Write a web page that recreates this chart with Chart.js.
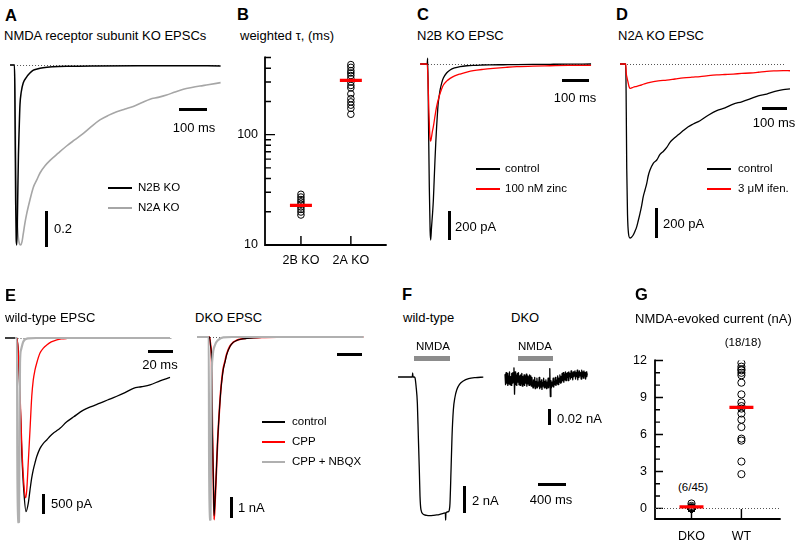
<!DOCTYPE html>
<html><head><meta charset="utf-8">
<script src="https://cdn.jsdelivr.net/npm/chart.js@4.4.1/dist/chart.umd.min.js"></script>
<style>
html,body{margin:0;padding:0;background:#fff;}
#fig{position:relative;width:800px;height:546px;overflow:hidden;font-family:"Liberation Sans",Arial,Helvetica,sans-serif;color:#000;}
#fig canvas{position:absolute;}
.t{position:absolute;white-space:nowrap;line-height:1;font-size:13px;}
.r{position:absolute;}
</style></head><body><div id="fig"></div>
<script>
// ---------------- DATA ----------------
// A: normalized EPSCs (time ms, normalized current)
const aN2B_t = [-7, 9, 11, 13, 15, 17, 19, 21, 23, 25.5, 28.5, 33, 40, 52, 64, 75, 90, 111, 146, 200, 300, 450, 600, 745];
const aN2B_v = [0, 0, -0.3, -0.75, -0.97, -1.0, -0.88, -0.68, -0.5, -0.36, -0.22, -0.15, -0.1, -0.067, -0.045, -0.03, -0.022, -0.015, -0.01, -0.007, -0.005, -0.004, -0.004, -0.005];
const aN2A_t = [-7, 9, 11, 14, 18, 22, 26, 31, 36, 40, 46, 52, 64, 76, 88, 100, 118, 136, 165, 195, 225, 255, 285, 314, 344, 374, 404, 433, 463, 493, 522, 552, 582, 612, 642, 671, 700, 745];
const aN2A_v = [0, 0, -0.25, -0.6, -0.85, -0.95, -0.99, -1.0, -0.98, -0.94, -0.88, -0.83, -0.75, -0.68, -0.64, -0.6, -0.56, -0.53, -0.49, -0.45, -0.415, -0.38, -0.34, -0.305, -0.28, -0.26, -0.245, -0.23, -0.21, -0.19, -0.18, -0.167, -0.15, -0.135, -0.125, -0.117, -0.11, -0.098];

// B: weighted tau (ms)
const bCats = ['2B KO', '2A KO'];
const bTau2B = [28.8, 27.2, 25.8, 24.6, 23.4, 22.1, 21.0, 19.9, 18.7];
const bTau2A = [431, 407, 380, 362, 343, 322, 299, 279, 265, 234, 212, 198, 185, 173, 153];
const bMeans = [22.9, 310];
const bTicks = [10, 20, 30, 40, 50, 60, 70, 80, 90, 100, 200, 300, 400, 500];

// C: N2B KO EPSC (ms, pA)
const cCtl_t = [-18, 8, 10, 13, 16, 19, 21, 24, 28, 31, 34, 37, 40, 43, 46, 49, 53, 56, 62, 68, 80, 93, 110, 130, 155, 178, 210, 240, 290, 340, 400, 463, 530, 615];
const cCtl_v = [0, 0, 40, -400, -850, -1150, -1214, -1130, -1030, -938, -800, -662, -540, -434, -345, -269, -215, -179, -130, -97, -62, -41, -27, -18, -12, -9, -7, -6, -5, -4, -3, -2, -1, 0];
const cZn_t = [-18, 8, 11, 14, 17, 19, 21, 24, 27, 31, 37, 43, 50, 56, 62, 68, 80, 93, 110, 130, 155, 179, 215, 253, 300, 340, 400, 463, 530, 615];
const cZn_v = [0, 0, -100, -300, -460, -520, -531, -505, -470, -432, -360, -294, -240, -202, -170, -145, -118, -99, -82, -69, -56, -46, -37, -30, -23, -18, -14, -12, -10, -9];

// D: N2A KO EPSC (ms, pA)
const dCtl_t = [-20, 3, 5, 7, 10, 14, 20, 26, 33, 40, 47, 53, 60, 67, 73, 80, 87, 93, 100, 113, 127, 140, 153, 167, 180, 193, 213, 233, 253, 273, 300, 333, 367, 400, 433, 467, 500, 533, 567, 600, 633, 660];
const dCtl_v = [0, 0, -300, -700, -1000, -1130, -1160, -1155, -1140, -1115, -1084, -1045, -996, -940, -884, -840, -796, -745, -707, -662, -640, -603, -583, -556, -522, -500, -472, -444, -418, -400, -378, -342, -311, -292, -267, -252, -233, -212, -200, -183, -171, -166];
const dIfen_t = [-20, 3, 5, 8, 12, 16, 20, 25, 33, 47, 60, 73, 87, 100, 133, 167, 200, 233, 267, 300, 333, 367, 400, 433, 467, 500, 533, 567, 600, 633, 660];
const dIfen_v = [0, 0, -60, -90, -120, -150, -162, -160, -155, -149, -143, -135, -128, -122, -113, -107, -100, -93, -88, -84, -78, -73, -70, -67, -63, -60, -55, -49, -46, -44, -45];

// E: wild-type EPSC (ms, pA)
const eWtCtl_t = [0, 9.5, 10.5, 12, 13.5, 15, 16.8, 18.6, 20, 21.3, 22.6, 24, 25.4, 28, 30.7, 33.4, 36, 38.6, 41.3, 44, 49.4, 55, 62.7, 69, 76, 82, 89, 96, 102.7, 109, 116, 124, 132];
const eWtCtl_v = [0, 0, -300, -1500, -3000, -3900, -4450, -4240, -3900, -3600, -3380, -3200, -3040, -2830, -2700, -2615, -2520, -2440, -2380, -2315, -2150, -2020, -1850, -1760, -1670, -1590, -1500, -1400, -1290, -1250, -1200, -1100, -1010];
const eWtCpp_t = [9.5, 10.5, 12, 13.5, 15, 16.5, 17.4, 18.6, 20, 21.4, 22.6, 24, 25.4, 28, 30.7, 33.4, 37, 41.4, 45, 49.4, 55, 62, 75, 100, 132];
const eWtCpp_v = [0, -300, -1400, -2800, -3700, -4100, -3900, -3200, -2360, -1500, -1080, -820, -640, -385, -260, -180, -100, -50, -25, -12, -6, -3, 0, 0, 0];
const eWtNbqx_t = [8, 9.6, 10, 11.2, 12, 12.8, 14.6, 18.6, 25, 132];
const eWtNbqx_v = [0, 0, -4720, -4720, -640, -308, -95, -8, 0, 0];
// E: DKO EPSC (ms, pA)
const eDkoCtl_t = [0, 10, 10.8, 11.7, 12.3, 13.1, 13.6, 14.4, 15.2, 16.3, 17.6, 19, 20, 21, 22.4, 23.7, 26.4, 29, 31.7, 35, 39.7, 45, 52, 65, 80, 100, 133];
const eDkoCtl_v = [0, 0, -400, -1250, -4430, -6810, -8500, -7800, -6800, -5200, -3800, -2600, -2000, -1550, -1200, -850, -450, -260, -170, -110, -70, -40, -20, -8, -3, 0, 0];
const eDkoCpp_t = [0, 10, 10.8, 11.7, 12.3, 13.1, 13.7, 14.5, 15.3, 16.4, 17.7, 19, 20, 21, 22.4, 23.7, 26.4, 29, 31.7, 35, 39.7, 45, 52, 65, 80, 100, 133];
const eDkoCpp_v = [0, 0, -350, -1200, -4300, -6900, -8700, -7800, -6700, -5100, -3700, -2550, -1950, -1500, -1150, -820, -430, -250, -160, -100, -60, -35, -18, -6, -2, 0, 0];
const eDkoNbqx_t = [0, 9.4, 9.8, 10.8, 11.7, 12.5, 14.4, 17, 21, 28, 133];
const eDkoNbqx_v = [0, 0, -8700, -8700, -2050, -940, -380, -140, -15, 0, 0];

// F: NMDA-evoked currents (ms, pA)
const fWt_t = [-28, 176, 181, 186, 200, 214, 230, 248, 262, 276, 286, 300, 333, 380, 429, 480, 524, 570, 619, 648, 652, 656, 690, 705, 714, 729, 743, 762, 785, 810, 850, 904, 980, 1080, 1190];
const fWt_v = [0, 0, 300, 0, 0, -50, -700, -1950, -4420, -6890, -8860, -9850, -10170, -10250, -10270, -10250, -10220, -10170, -10100, -10070, -10600, -10060, -9980, -9850, -9360, -6890, -4420, -2440, -1500, -960, -550, -300, -120, -40, -10];
const fDkoDt = 8; // sampling interval, ms
const fDko_v = [6,-7,8,-5,7,-8,4,-6,9,-7,3,-8,7,-5,8,-4,14,-19,9,-7,5,-8,7,-4,8,
  -7,4,-8,5,-6,7,-9,3,-7,5,-8,4,-5,6,-9,4,-6,3,-8,5,-7,4,-9,2,-6,
  -11,-1,-9,2,-12,-3,-10,1,-11,-4,-9,2,-12,-3,-10,-1,-13,-4,-9,1,-11,-3,-10,-1,-12,
  -4,-10,1,-11,-3,13,-22,-2,-11,-4,-9,1,-10,-3,-7,2,-8,-1,-6,4,-7,1,-4,5,-5,
  3,-4,7,-2,8,-4,6,-1,9,-2,7,2,8,-2,9,3,7,0,10,2,8,-1,9,3,6,
  10,0,8,3,11,-1,9,2,10,4,8,0,11,3,9,1,10,4,8,0,9,3,7];

// G: NMDA-evoked current (nA)
const gCats = ['DKO', 'WT'];
const gDKO = [0.4, 0.2, 0.1, 0.05, 0.02, 0.01, 0,0,0,0,0,0,0,0,0,0,0,0,0,0,0,0,0,0,0,0,0,0,0,0,0,0,0,0,0,0,0,0,0,0,0,0,0,0,0];
const gWT = [11.8, 11.5, 11.3, 11.2, 11.0, 10.8, 10.2, 9.25, 8.6, 8.3, 8.1, 7.7, 7.2, 6.6, 5.66, 5.5, 3.8, 2.78];
const gMeans = [0.12, 8.2];
const gTicks = [0,1,2,3,4,5,6,7,8,9,10,11,12];
const gMajor = [0,3,6,9,12];

// ---------------- HELPERS ----------------
const FONT = '"Liberation Sans", Arial, Helvetica, sans-serif';
Chart.defaults.font.family = FONT;
Chart.defaults.color = '#000';
const fig = document.getElementById('fig');
const RED = '#ff0000', GRAY = '#a6a6a6';

function T(txt, x, cy, o = {}) {
  const d = document.createElement('div');
  d.className = 't'; d.textContent = txt;
  d.style.left = x + 'px'; d.style.top = cy + 'px';
  d.style.fontSize = (o.size || 13) + 'px';
  if (o.bold) d.style.fontWeight = 'bold';
  d.style.transform = o.center ? 'translate(-50%,-50%)' : 'translateY(-50%)';
  fig.appendChild(d);
}
function R(x, y, w, h, c) {
  const d = document.createElement('div'); d.className = 'r';
  Object.assign(d.style, {left: x + 'px', top: y + 'px', width: w + 'px', height: h + 'px', background: c || '#000'});
  fig.appendChild(d);
}
function zip(ts, vs) { return ts.map((t, i) => ({x: t, y: vs[i]})); }
function canvasAt(x, y, w, h) {
  const cv = document.createElement('canvas');
  cv.width = w; cv.height = h;
  cv.style.left = x + 'px'; cv.style.top = y + 'px';
  cv.style.width = w + 'px'; cv.style.height = h + 'px';
  fig.appendChild(cv);
  return cv;
}
function dotted(from, to) {
  return {
    id: 'dotted',
    beforeDatasetsDraw(chart) {
      const {ctx, chartArea: a} = chart, xs = chart.scales.x, ys = chart.scales.y;
      const y = Math.round(ys.getPixelForValue(0)) + 0.5;
      const x0 = from === null ? a.left : xs.getPixelForValue(from);
      const x1 = to === null ? a.right : xs.getPixelForValue(to);
      ctx.save(); ctx.strokeStyle = '#555'; ctx.lineWidth = 1; ctx.setLineDash([1, 2]);
      ctx.beginPath(); ctx.moveTo(x0, y); ctx.lineTo(x1, y); ctx.stroke(); ctx.restore();
    }
  };
}
function traceChart(box, xr, yr, sets, base) {
  const pad = 6;
  const cv = canvasAt(box[0] - pad, box[1] - pad, box[2] + 2 * pad, box[3] + 2 * pad);
  return new Chart(cv, {
    type: 'line',
    data: {datasets: sets.map(s => ({
      data: zip(s.t, s.v), borderColor: s.c, borderWidth: s.w || 1.3, pointRadius: 0, fill: false,
      tension: 0, cubicInterpolationMode: s.straight ? 'default' : 'monotone', clip: pad, borderJoinStyle: 'round'
    }))},
    options: {
      responsive: false, animation: false, devicePixelRatio: 1, events: [],
      layout: {padding: pad},
      scales: {
        x: {type: 'linear', display: false, min: xr[0], max: xr[1]},
        y: {type: 'linear', display: false, min: yr[0], max: yr[1]}
      },
      plugins: {legend: {display: false}, tooltip: {enabled: false}}
    },
    plugins: base ? [dotted(base[0], base[1])] : []
  });
}
function axesPlugin(major, majLen, minLen, xLen, lw) {
  return {
    id: 'inAxes',
    beforeDatasetsDraw(chart) {
      const {ctx, chartArea: a} = chart, xs = chart.scales.x, ys = chart.scales.y;
      ctx.save(); ctx.strokeStyle = '#000'; ctx.lineWidth = lw; ctx.lineCap = 'square';
      ctx.beginPath();
      ctx.moveTo(a.left, a.top); ctx.lineTo(a.left, a.bottom); ctx.lineTo(a.right, a.bottom);
      ctx.stroke();
      ctx.lineCap = 'butt'; ctx.lineWidth = lw * 0.8;
      ctx.beginPath();
      ys.ticks.forEach(t => {
        const y = ys.getPixelForValue(t.value);
        const L = major.includes(t.value) ? majLen : minLen;
        ctx.moveTo(a.left, y); ctx.lineTo(a.left + L, y);
      });
      xs.ticks.forEach(t => {
        const x = xs.getPixelForValue(t.value);
        ctx.moveTo(x, a.bottom); ctx.lineTo(x, a.bottom - xLen);
      });
      ctx.stroke(); ctx.restore();
    }
  };
}
function dotPlot(cvBox, pads, yW, xH, xr, yOpt, cats, groups, means, meanR, ptR, plugs, xPad) {
  const cv = canvasAt(cvBox[0], cvBox[1], cvBox[2], cvBox[3]);
  const ds = [{data: means.map((m, i) => ({x: i, y: m})), pointStyle: 'line', pointRadius: meanR, pointBorderWidth: 3.2,
               pointBorderColor: RED, borderColor: RED, borderWidth: 3.2, showLine: false}];
  groups.forEach((g, i) => ds.push({data: g.map(v => ({x: i, y: v})), pointStyle: 'circle', pointRadius: ptR,
    pointBorderColor: '#000', pointBackgroundColor: 'rgba(0,0,0,0)', pointBorderWidth: 1, showLine: false}));
  return new Chart(cv, {
    type: 'scatter',
    data: {datasets: ds},
    options: {
      responsive: false, animation: false, devicePixelRatio: 1, events: [],
      layout: {padding: pads},
      scales: {
        x: {type: 'linear', min: xr[0], max: xr[1], grid: {display: false, drawTicks: false}, border: {display: false},
            afterBuildTicks: s => { s.ticks = cats.map((c, i) => ({value: i})); },
            ticks: {padding: xPad, autoSkip: false, maxRotation: 0, font: {size: 12.5}, color: '#000', callback: v => cats[v]},
            afterFit: s => { s.height = xH; }},
        y: Object.assign({grid: {display: false, drawTicks: false}, border: {display: false},
            afterFit: s => { s.width = yW; }}, yOpt)
      },
      plugins: {legend: {display: false}, tooltip: {enabled: false}}
    },
    plugins: plugs
  });
}

// ---------------- PANEL A ----------------
T('A', 5, 15, {bold: true, size: 16.5});
T('NMDA receptor subunit KO EPSCs', 4, 35);
traceChart([10, 58, 212, 192], [-7.14, 750], [-1.0278, 0.0389], [
  {t: aN2B_t, v: aN2B_v, c: '#000', w: 1.5},
  {t: aN2A_t, v: aN2A_v, c: GRAY, w: 1.6}
], [18, 743]);
R(179, 108, 28, 3); T('100 ms', 194, 127, {center: true});
R(108, 187, 24, 1.5, '#000'); T('N2B KO', 138, 188, {size: 11.5});
R(108, 207, 24, 1.5, GRAY); T('N2A KO', 138, 208, {size: 11.5});
R(45, 211, 3, 36); T('0.2', 54, 228);

// ---------------- PANEL B ----------------
T('B', 237, 13.5, {bold: true, size: 16.5});
T('weighted τ, (ms)', 240, 35);
dotPlot([222, 43, 178, 232], {left: 0, right: 7, top: 12, bottom: 0}, 43, 30, [-0.72, 1.70],
  {type: 'logarithmic', min: 10, max: 500,
   afterBuildTicks: s => { s.ticks = bTicks.map(v => ({value: v})); },
   ticks: {padding: 7, autoSkip: false, font: {size: 12.5}, color: '#000', callback: v => (v === 10 || v === 100) ? String(v) : ''}},
  bCats, [bTau2B, bTau2A], bMeans, 11, 3.3, [axesPlugin([10, 100], 10, 6, 9, 1.8)], 8);

// ---------------- PANEL C ----------------
T('C', 417, 13.5, {bold: true, size: 16.5});
T('N2B KO EPSC', 417, 34.5);
traceChart([420, 57, 172, 188], [-18.5, 618.5], [-1248, 48.3], [
  {t: cZn_t, v: cZn_v, c: RED, w: 1.3},
  {t: cCtl_t, v: cCtl_v, c: '#000', w: 1.3}
], [11, 604]);
R(562, 79, 27, 3); T('100 ms', 575, 97, {center: true});
R(476, 168, 24, 1.5, '#000'); T('control', 505, 169, {size: 11.5});
R(476, 188, 24, 1.5, RED); T('100 nM zinc', 505, 189, {size: 11.5});
R(448, 211, 3, 29); T('200 pA', 455, 226);

// ---------------- PANEL D ----------------
T('D', 616, 13.5, {bold: true, size: 16.5});
T('N2A KO EPSC', 618, 35);
traceChart([620, 57, 170, 186], [-20, 660], [-1193.3, 46.7], [
  {t: dIfen_t, v: dIfen_v, c: RED, w: 1.3},
  {t: dCtl_t, v: dCtl_v, c: '#000', w: 1.3}
], [8, 640]);
R(762, 107, 25, 3); T('100 ms', 774, 122, {center: true});
R(707, 168, 24, 1.5, '#000'); T('control', 738, 169, {size: 11.5});
R(707, 188, 24, 1.5, RED); T('3 μM ifen.', 738, 189, {size: 11.5});
R(655, 208, 3, 30); T('200 pA', 663, 223);

// ---------------- PANEL E ----------------
T('E', 5, 295, {bold: true, size: 16.5});
T('wild-type EPSC', 5, 317);
T('DKO EPSC', 195, 317);
traceChart([2, 330, 174, 196], [-2.4, 136.8], [-4820.5, 205.1], [
  {t: eWtNbqx_t, v: eWtNbqx_v, c: '#b0b0b0', w: 2.2},
  {t: eWtCpp_t, v: eWtCpp_v, c: RED, w: 1.3},
  {t: eWtCtl_t, v: eWtCtl_v, c: '#000', w: 1.3}
], [10, 133]);
traceChart([194, 329, 170, 196], [-2.4, 133.6], [-8952, 381], [
  {t: eDkoNbqx_t, v: eDkoNbqx_v, c: '#b0b0b0', w: 2.2},
  {t: eDkoCtl_t, v: eDkoCtl_v, c: '#000', w: 1.1},
  {t: eDkoCpp_t, v: eDkoCpp_v, c: RED, w: 1.7}
], [10.4, 131]);
R(148, 350, 25, 3); T('20 ms', 160, 364, {center: true});
R(42, 494, 3, 20); T('500 pA', 51, 503);
R(337, 353, 25, 3);
R(230, 497, 3, 21); T('1 nA', 238, 507);
R(262, 421, 23, 1.5, '#000'); T('control', 292, 422, {size: 11.5});
R(262, 441, 23, 1.5, RED); T('CPP', 292, 442, {size: 11.5});
R(262, 461, 23, 1.5, '#b0b0b0'); T('CPP + NBQX', 292, 462, {size: 11.5});

// ---------------- PANEL F ----------------
T('F', 402, 294, {bold: true, size: 16.5});
T('wild-type', 403, 317);
T('DKO', 511, 317);
T('NMDA', 433, 347, {center: true, size: 11.5});
R(414, 356, 36, 5, '#8c8c8c');
T('NMDA', 535, 347, {center: true, size: 11.5});
R(518, 356, 35, 5, '#8c8c8c');
traceChart([398, 365, 92, 162], [-28.6, 1285.7], [-11111, 888.9], [
  {t: fWt_t, v: fWt_v, c: '#000', w: 1.3}
], null);
traceChart([502, 362, 90, 38], [-42.9, 1242.9], [-26.25, 21.25], [
  {t: fDko_v.map((v, i) => i * fDkoDt), v: fDko_v, c: '#000', w: 1.3, straight: true}
], null);
R(463, 486, 3, 27); T('2 nA', 472, 500);
R(548, 409, 3, 16); T('0.02 nA', 557, 418);
R(538, 483, 28, 3); T('400 ms', 551, 499, {center: true});

// ---------------- PANEL G ----------------
T('G', 635, 294, {bold: true, size: 16.5});
T('NMDA-evoked current (nA)', 635, 318);
T('(18/18)', 743, 343, {center: true, size: 11.5});
T('(6/45)', 693, 488, {center: true, size: 11.5});
dotPlot([615, 345, 180, 201], {left: 0, right: 10, top: 10, bottom: 0}, 40, 27, [-0.731, 1.769],
  {type: 'linear', min: -0.86, max: 12,
   afterBuildTicks: s => { s.ticks = gTicks.map(v => ({value: v})); },
   ticks: {padding: 8, autoSkip: false, font: {size: 12.5}, color: '#000', callback: v => gMajor.includes(v) ? String(v) : ''}},
  gCats, [gDKO, gWT], gMeans, 12, 3.6, [axesPlugin(gMajor, 8, 5, 10, 1.8), dotted(null, null)], 10);
</script></body></html>
